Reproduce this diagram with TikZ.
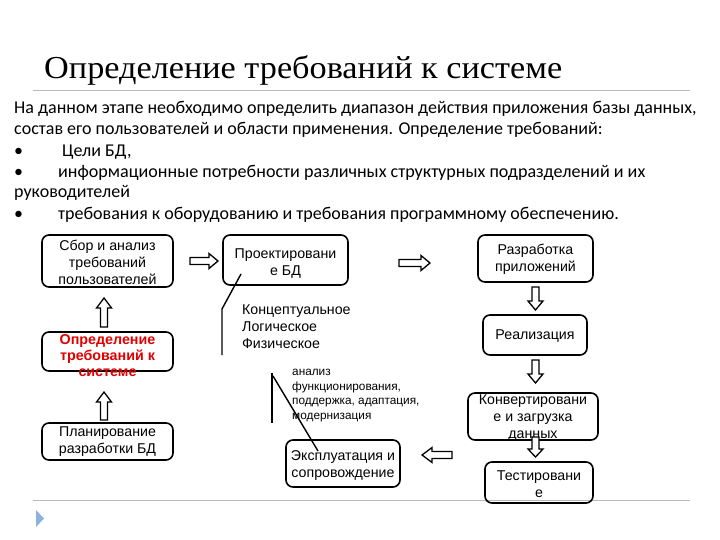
\documentclass[tikz,border=0pt]{standalone}
\usepackage{fontspec}
\usepackage{graphicx}
\setmainfont{Liberation Serif}
\newfontfamily\bodyfont{Carlito}
\newfontfamily\boxfont{Liberation Sans}
\definecolor{rulegray}{RGB}{185,185,185}
\definecolor{tribl}{RGB}{140,178,222}
\definecolor{boxred}{RGB}{225,0,0}
\tikzset{
  box/.style={draw, line width=1.6pt, rounded corners=7pt, inner sep=0pt},
  boxtext/.style={font=\boxfont\fontsize{14.2}{17}\selectfont, align=center, inner sep=0pt},
  redtext/.style={font=\boxfont\bfseries\fontsize{14.3}{16}\selectfont, align=center, inner sep=0pt, text=boxred},
  small/.style={font=\boxfont\fontsize{11.8}{14.7}\selectfont, align=left, inner sep=0pt},
  body/.style={font=\bodyfont\fontsize{18}{21}\selectfont, inner sep=0pt, anchor=base west},
  blk/.style={draw, line width=1.3pt, line join=miter, fill=white},
}
% horizontal block arrow: tail x, tip x, centre y, signed head length
\newcommand{\harrow}[4]{%
  \draw[blk] (#1,{#3-3.5}) -- ({#2-(#4)},{#3-3.5}) -- ({#2-(#4)},{#3-7.5}) -- (#2,#3)
     -- ({#2-(#4)},{#3+7.5}) -- ({#2-(#4)},{#3+3.5}) -- (#1,{#3+3.5}) -- cycle;}
% vertical block arrow: tail y, tip y, centre x, signed head length
\newcommand{\varrow}[4]{%
  \draw[blk] ({#3-3.5},#1) -- ({#3-3.5},{#2-(#4)}) -- ({#3-7.5},{#2-(#4)}) -- (#3,#2)
     -- ({#3+7.5},{#2-(#4)}) -- ({#3+3.5},{#2-(#4)}) -- ({#3+3.5},#1) -- cycle;}
\begin{document}
\begin{tikzpicture}[x=1pt,y=-1pt]
\path[use as bounding box] (0,0) rectangle (720,540);
% title
\node[anchor=base west, inner sep=0pt] (title) at (44,79)
  {\resizebox{518pt}{\height}{\fontsize{32}{36}\selectfont Определение требований к системе}};
\draw[rulegray, line width=1pt] (33,91) -- (690,91);
\draw[rulegray, line width=1pt] (33,500) -- (690,500);
\fill[tribl] (36,510) -- (44,518.5) -- (36,527) -- cycle;
% body text
\node[body] (l1) at (14,114) {На данном этапе необходимо определить диапазон действия приложения базы данных,};
\node[body] (l2) at (14,135) {состав его пользователей и области применения. Определение требований:};
\node[body] (b3) at (14,157) {•};
\node[body] (l3) at (62,157) {Цели БД,};
\node[body] (b4) at (14,178) {•};
\node[body] (l4) at (58,178) {\resizebox{587pt}{\height}{информационные потребности различных структурных подразделений и их}};
\node[body] (l5) at (14,198) {руководителей};
\node[body] (b6) at (14,220) {•};
\node[body] (l6) at (58,220) {требования к оборудованию и требования программному обеспечению.};
% left column
\node[box, minimum width=131pt, minimum height=52pt] (A) at (107.5,261) {};
\node[boxtext] (At) at (107.5,262) {Сбор и анализ\\требований\\пользователей};
\node[box, minimum width=131pt, minimum height=39pt] (B) at (107.5,351.5) {};
\node[redtext] (Bt) at (107.5,356) {Определение\\требований к\\системе};
\node[box, minimum width=131pt, minimum height=37pt] (C) at (107.5,441.5) {};
\node[boxtext] (Ct) at (107.5,442) {Планирование\\разработки БД};
\varrow{420}{392}{104}{-10}
\varrow{327}{298}{104}{-10}
% middle
\node[box, minimum width=125pt, minimum height=50pt] (D) at (285.5,260) {};
\node[boxtext] (Dt) at (285.5,264) {Проектировани\\е БД};
\harrow{190}{218}{261}{9}
\harrow{399}{430}{263}{9}
\node[boxtext, align=left, anchor=north west] (Dl) at (242,305) {Концептуальное\\Логическое\\Физическое};
\coordinate (d1) at (241,274);
\coordinate (d2) at (222,309);
\coordinate (d3) at (222,355);
\draw[line width=1.4pt] (d1) -- (d2) -- (d3);
\node[small, anchor=north west] (It) at (292,369) {анализ\\функционирования,\\поддержка, адаптация,\\модернизация};
\coordinate (e1) at (272,373);
\coordinate (e2) at (272,423);
\coordinate (e3) at (273,376);
\coordinate (e4) at (318,451);
\draw[line width=1.4pt] (e1) -- (e2);
\draw[line width=1.4pt] (e3) -- (e4);
\node[box, minimum width=114pt, minimum height=47pt] (I) at (343,463.5) {};
\node[boxtext] (Itx) at (343,466) {Эксплуатация и\\сопровождение};
% right column
\node[box, minimum width=115pt, minimum height=47pt] (E) at (535.5,258.5) {};
\node[boxtext] (Et) at (535.5,259) {Разработка\\приложений};
\node[box, minimum width=104pt, minimum height=40pt] (F) at (535,335) {};
\node[boxtext] (Ft) at (535,336) {Реализация};
\node[box, minimum width=130pt, minimum height=47pt] (G) at (533,416.5) {};
\node[boxtext] (Gt) at (533,418) {Конвертировани\\е и загрузка\\данных};
\node[box, minimum width=108pt, minimum height=41pt] (H) at (539,482.5) {};
\node[boxtext] (Ht) at (539,484) {Тестировани\\е};
\varrow{287}{310}{535.5}{9}
\varrow{360}{383}{535.5}{9}
\varrow{437}{457}{535.5}{8}
\harrow{452}{422}{455}{-10}
\end{tikzpicture}
\end{document}
